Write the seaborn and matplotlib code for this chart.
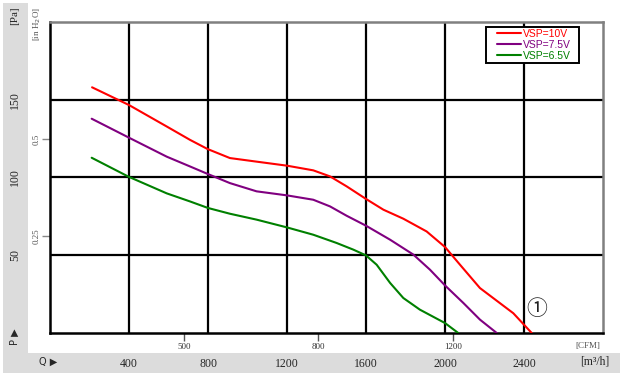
import numpy as np
import pandas as pd
import matplotlib
matplotlib.use("Agg")
import matplotlib.pyplot as plt
from matplotlib.patches import Rectangle
import seaborn as sns

sns.set_style("white")
plt.rcParams["font.family"] = ["Liberation Serif", "DejaVu Serif"]

# airflow [m3/h] and static pressure [Pa]
q_10v = [213, 400, 591, 709, 798, 911, 1046, 1200, 1333, 1418, 1502, 1600, 1688, 1789, 1907, 2000,
         2076, 2177, 2346, 2439]
p_10v = [158, 146.6, 132.8, 124.2, 118.3, 112.5, 110.2, 107.6, 104.6, 100.7, 94.3, 86.2, 79.3, 73.5, 65.3, 55.3,
         43.9, 28.9, 12.7, 0]

q_75v = [211, 400, 591, 709, 800, 911, 1046, 1200, 1333, 1418, 1502, 1600, 1722, 1840, 1924, 2000,
         2093, 2177, 2262]
p_75v = [137.8, 125.6, 113.4, 107.1, 102.2, 96.4, 91.1, 88.5, 85.7, 81.4, 75.4, 69, 60, 50.4, 40.7, 30.6,
         19.3, 8.6, 0]

q_65v = [211, 398, 591, 709, 800, 911, 1046, 1200, 1333, 1451, 1536, 1600, 1654, 1722, 1789, 1873,
         2000, 2067]
p_65v = [112.7, 100.5, 89.8, 84.6, 80.4, 76.7, 72.9, 67.9, 63.2, 57.9, 53.6, 49.9, 43.9, 32.2, 22.5, 15,
         6.4, 0]

series = ["VSP=10V", "VSP=7.5V", "VSP=6.5V"]
colors = ["#ff0000", "#800080", "#008000"]

q_ticks = [400, 800, 1200, 1600, 2000, 2400]
p_ticks = [50, 100, 150]
cfm_ticks = [400, 800, 1200]
cfm_labels = ["500", "800", "1200"]
inh2o_ticks = [0.25, 0.5]
inh2o_labels = ["0.25", "0.5"]

df = pd.concat([
    pd.DataFrame({"Q": q_10v, "P": p_10v, "series": series[0]}),
    pd.DataFrame({"Q": q_75v, "P": p_75v, "series": series[1]}),
    pd.DataFrame({"Q": q_65v, "P": p_65v, "series": series[2]}),
])

W, H = 624, 385
fig = plt.figure(figsize=(W / 100, H / 100), dpi=100)

# grey label bands
fig.patches.append(Rectangle((3 / W, 1 - 353 / H), 25 / W, 350 / H, transform=fig.transFigure,
                             facecolor="#dcdcdc", edgecolor="none", zorder=-5))
fig.patches.append(Rectangle((3 / W, 1 - 373 / H), 617 / W, 20 / H, transform=fig.transFigure,
                             facecolor="#dcdcdc", edgecolor="none", zorder=-5))

ax = fig.add_axes([50 / W, 1 - 333 / H, 553 / W, 311 / H])
ax.set_facecolor("white")

sns.lineplot(data=df, x="Q", y="P", hue="series", palette=dict(zip(series, colors)),
             estimator=None, sort=False, linewidth=1.5, ax=ax, zorder=3)

ax.set_xlim(0, 2800)
ax.set_ylim(0, 200)
ax.set_xlabel("")
ax.set_ylabel("")

ax.set_xticks(q_ticks)
ax.set_xticklabels([str(v) for v in q_ticks], fontsize=8.5)
ax.set_yticks(p_ticks)
ax.set_yticklabels([str(v) for v in p_ticks], fontsize=8.5, rotation=90, va="center")
ax.tick_params(axis="x", length=0, pad=18)
ax.tick_params(axis="y", length=0, pad=21)
ax.grid(True, color="black", linewidth=1.6)
ax.set_axisbelow(True)

for side in ["left", "bottom"]:
    ax.spines[side].set_color("black")
    ax.spines[side].set_linewidth(1.8)
for side in ["top", "right"]:
    ax.spines[side].set_color("#808080")
    ax.spines[side].set_linewidth(1.8)

# CFM scale
secx = ax.secondary_xaxis("bottom", functions=(lambda q: q / 1.699, lambda c: c * 1.699))
secx.set_xticks(cfm_ticks)
secx.set_xticklabels(cfm_labels, fontsize=6.5, color="#333333")
secx.tick_params(length=6, width=1, color="#555555", pad=1)
secx.spines["bottom"].set_visible(False)

# inH2O scale
secy = ax.secondary_yaxis("left", functions=(lambda p: p / 249.09, lambda w: w * 249.09))
secy.set_yticks(inh2o_ticks)
secy.set_yticklabels(inh2o_labels, fontsize=6.5, color="#555555", rotation=90, va="center")
secy.tick_params(length=6, width=1, color="#888888", pad=1)
secy.spines["left"].set_visible(False)

# legend: white box with black frame, entries on top
ax.add_patch(Rectangle((436 / 553, (333 - 63) / 311), 93 / 553, 36 / 311, transform=ax.transAxes,
                       facecolor="white", edgecolor="black", linewidth=1.4, zorder=4))
leg = ax.legend(loc="upper left", bbox_to_anchor=(447 / 553, (333 - 29) / 311), frameon=False,
                prop={"family": "Liberation Sans", "size": 7.5}, handlelength=2.3,
                handletextpad=0.2, labelspacing=0.1, borderpad=0, borderaxespad=0)
leg.set_zorder(5)
for txt, c in zip(leg.get_texts(), colors):
    txt.set_color(c)

ax.text(2466, 15.4, "①", fontsize=15, ha="center", va="center",
        family=["Noto Sans CJK JP", "DejaVu Sans"], color="#222222", zorder=5)

# unit labels
fig.text(15 / W, 1 - 16 / H, "[Pa]", rotation=90, ha="center", va="center", fontsize=8)
fig.text(37 / W, 1 - 24 / H, "[in H$_2$O]", rotation=90, ha="center", va="center",
         fontsize=6.5, color="#555555")
fig.text(15 / W, 1 - 337 / H, "P ▶", rotation=90, ha="center", va="center", fontsize=7,
         family=["DejaVu Sans"])
fig.text(48 / W, 1 - 362 / H, "Q ▶", ha="center", va="center", fontsize=7, family=["DejaVu Sans"])
fig.text(595 / W, 1 - 362 / H, "[m³/h]", ha="center", va="center", fontsize=8.5)
fig.text(588 / W, 1 - 346 / H, "[CFM]", ha="center", va="center", fontsize=6.5, color="#555555")

fig.savefig("out.png", dpi=100)
